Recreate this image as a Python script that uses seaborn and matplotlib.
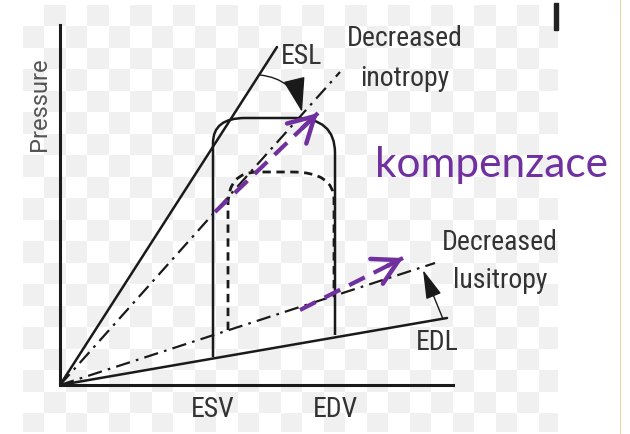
import numpy as np
import matplotlib
matplotlib.use("Agg")
import matplotlib.pyplot as plt
import seaborn as sns
from matplotlib.path import Path
from matplotlib.patches import PathPatch, Rectangle
from matplotlib.lines import Line2D

sns.set_theme(style="white")
plt.rcParams['font.family'] = ['Roboto Condensed', 'Roboto', 'DejaVu Sans']

# schematic pressure-volume relations (volume, pressure), arbitrary units
esl_v = [0, 217]
esl_p = [0, 338]
inotropy_v = [0, 280]
inotropy_p = [0, 313]
lusitropy_v = [0, 375]
lusitropy_p = [0, 122]
edl_v = [0, 387]
edl_p = [0, 67]

# normal PV loop (solid) - corner points and curve controls
loop_v = [153, 153, 153, 185, 235, 275, 275, 275]
loop_p = [28, 242, 267, 267, 267, 267, 232, 50]
# impaired PV loop (dashed)
loop2_v = [168, 168, 168, 198, 232, 274, 274, 274]
loop2_p = [55, 180, 213, 213, 213, 213, 185, 89]
loop_codes = [Path.MOVETO, Path.LINETO, Path.CURVE3, Path.CURVE3,
              Path.LINETO, Path.CURVE3, Path.CURVE3, Path.LINETO]

# compensation arrows (tail, tip)
komp1_v = [155, 258]
komp1_p = [173, 272]
komp2_v = [240, 343]
komp2_p = [75, 127]

tick_pos = [153, 275]
tick_labels = ['ESV', 'EDV']

W, H = 630, 434
fig = plt.figure(figsize=(6.3, 4.34), dpi=100)
fig.patch.set_facecolor('white')

# faint checkerboard backdrop of the pasted picture
bg = fig.add_axes([23 / W, 2 / H, (558 - 23) / W, (429 - 2) / H], zorder=0)
sq = 21.5
nx, ny = int(535 / sq) + 1, int(427 / sq) + 1
board = (np.add.outer(np.arange(ny), np.arange(nx)) % 2).astype(float)
bg.imshow(board, cmap=matplotlib.colors.ListedColormap(['#ffffff', '#f0f0f0']),
          aspect='auto', interpolation='nearest', extent=(0, nx * sq, ny * sq, 0))
bg.set_xlim(0, 535)
bg.set_ylim(427, 0)
bg.axis('off')

ax = fig.add_axes([60 / W, (H - 385) / H, (453 - 60) / W, (385 - 25) / H], zorder=1)
ax.set_facecolor('none')
ax.set_xlim(0, 393)
ax.set_ylim(0, 360)
for s in ['top', 'right']:
    ax.spines[s].set_visible(False)
for s in ['left', 'bottom']:
    ax.spines[s].set_color('#1a1a1a')
    ax.spines[s].set_linewidth(2.2)
ax.set_yticks([])
ax.set_xticks(tick_pos)
ax.set_xticklabels(tick_labels, fontsize=20, color='#333333')
ax.tick_params(axis='x', length=0, pad=8)

black = '#1a1a1a'
sns.lineplot(x=esl_v, y=esl_p, ax=ax, color=black, lw=1.8, estimator=None, sort=False)
sns.lineplot(x=edl_v, y=edl_p, ax=ax, color=black, lw=1.8, estimator=None, sort=False)
sns.lineplot(x=inotropy_v, y=inotropy_p, ax=ax, color=black, lw=1.6,
             linestyle=(0, (6.5, 2.8, 1.2, 2.8)), estimator=None, sort=False)
sns.lineplot(x=lusitropy_v, y=lusitropy_p, ax=ax, color=black, lw=1.6,
             linestyle=(0, (6.5, 2.8, 1.2, 2.8)), estimator=None, sort=False)

ax.add_patch(PathPatch(Path(np.column_stack([loop_v, loop_p]), loop_codes),
                       fill=False, ec=black, lw=1.8))
ax.add_patch(PathPatch(Path(np.column_stack([loop2_v, loop2_p]), loop_codes),
                       fill=False, ec=black, lw=2.0, ls=(0, (3.0, 2.0))))

# black pointer arrows
ax.annotate('', xy=(242, 273), xytext=(200, 310),
            arrowprops=dict(arrowstyle='-|>,head_length=1.1,head_width=0.35',
                            mutation_scale=20, color=black, lw=1.0,
                            connectionstyle='arc3,rad=-0.35', shrinkA=0, shrinkB=0))
ax.annotate('', xy=(363, 115), xytext=(383, 66),
            arrowprops=dict(arrowstyle='-|>,head_length=0.9,head_width=0.25',
                            mutation_scale=20, color=black, lw=1.0,
                            shrinkA=0, shrinkB=0))

# purple compensation arrows
purple = '#7030a0'
for kv, kp in [(komp1_v, komp1_p), (komp2_v, komp2_p)]:
    sns.lineplot(x=kv, y=kp, ax=ax, color=purple, lw=3.0,
                 linestyle=(0, (4.2, 2.4)), estimator=None, sort=False)
    ax.annotate('', xy=(kv[1], kp[1]), xytext=(kv[1] - 0.15 * (kv[1] - kv[0]),
                                               kp[1] - 0.15 * (kp[1] - kp[0])),
                arrowprops=dict(arrowstyle='->,head_length=0.9,head_width=0.5',
                                mutation_scale=20, color=purple, lw=3.2,
                                shrinkA=0, shrinkB=0))

if ax.get_legend():
    ax.get_legend().remove()

def ftext(x, y, s, **kw):
    fig.text(x / W, 1 - y / H, s, ha='center', va='center', **kw)

grey = '#333333'
ftext(39, 104, 'Pressure', rotation=90, fontsize=17, color='#555555',
      family=['Roboto', 'DejaVu Sans'])
ftext(302, 57, 'ESL', fontsize=20, color=grey)
ftext(405, 38, 'Decreased', fontsize=20, color=grey)
ftext(405, 78, 'inotropy', fontsize=20, color=grey)
ftext(500, 242, 'Decreased', fontsize=20, color=grey)
ftext(500, 280, 'lusitropy', fontsize=20, color=grey)
ftext(437, 342, 'EDL', fontsize=20, color=grey)
fig.text(491 / W, 1 - 165 / H, 'kompenzace', ha='center', va='center',
         fontsize=30.5, color=purple, family=['Lato', 'DejaVu Sans'])

fig.add_artist(Rectangle((554 / W, 1 - 30 / H), 3.5 / W, 27 / H,
                         transform=fig.transFigure, color='#222222'))
fig.add_artist(Line2D([620 / W, 620 / W], [0, 1], transform=fig.transFigure,
                      color='#e6d6a6', lw=0.8))

plt.savefig('out.png', dpi=100)
plt.close()
